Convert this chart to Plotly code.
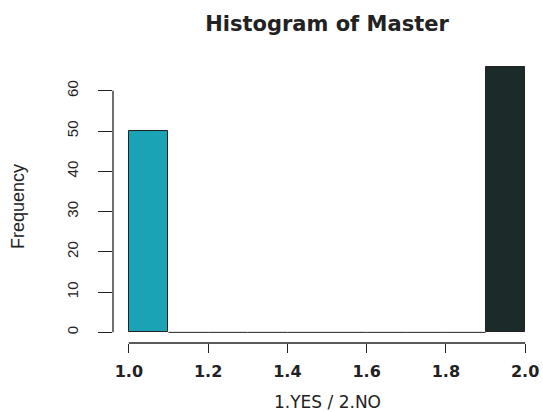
import plotly.graph_objects as go

# ---- data ----
bin_edges = [1.0, 1.1, 1.2, 1.3, 1.4, 1.5, 1.6, 1.7, 1.8, 1.9, 2.0]
counts = [50, 0, 0, 0, 0, 0, 0, 0, 0, 66]
bar_colors = ["#1aa2b5", "#ffffff", "#ffffff", "#ffffff", "#ffffff",
              "#ffffff", "#ffffff", "#ffffff", "#ffffff", "#1c2a29"]
x_ticks = [1.0, 1.2, 1.4, 1.6, 1.8, 2.0]
x_tick_labels = ["1.0", "1.2", "1.4", "1.6", "1.8", "2.0"]
y_ticks = [0, 10, 20, 30, 40, 50, 60]
y_tick_labels = ["0", "10", "20", "30", "40", "50", "60"]
title_text = "Histogram of Master"
x_title = "1.YES / 2.NO"
y_title = "Frequency"

# ---- derived ----
centers = [(a + b) / 2 for a, b in zip(bin_edges[:-1], bin_edges[1:])]
widths = [b - a for a, b in zip(bin_edges[:-1], bin_edges[1:])]
nz = [i for i, c in enumerate(counts) if c > 0]

fig = go.Figure()
fig.add_trace(go.Bar(
    x=[centers[i] for i in nz],
    y=[counts[i] for i in nz],
    width=[widths[i] for i in nz],
    marker=dict(color=[bar_colors[i] for i in nz],
                line=dict(color="#222222", width=1)),
    showlegend=False, hoverinfo="x+y",
))

# zero-height bins drawn as baseline segments (as R does)
zx, zy = [], []
for i, c in enumerate(counts):
    if c == 0:
        zx += [bin_edges[i], bin_edges[i + 1], None]
        zy += [0, 0, None]
fig.add_trace(go.Scatter(x=zx, y=zy, mode="lines",
                         line=dict(color="#222222", width=1),
                         showlegend=False, hoverinfo="skip"))

span_x = bin_edges[-1] - bin_edges[0]
ymax = max(counts)
xr = [bin_edges[0] - 0.04 * span_x, bin_edges[-1] + 0.04 * span_x]
yr = [-0.04 * ymax, ymax * 1.04]

axis_col = "#222222"
fig.update_layout(
    width=543, height=412,
    margin=dict(l=113, r=2, t=56, b=69),
    plot_bgcolor="white", paper_bgcolor="white",
    bargap=0,
    title=dict(text=title_text, x=0.5, xref="paper", xanchor="center",
               y=1 - 24 / 412, yref="container", yanchor="middle",
               font=dict(family="DejaVu Sans", size=21, color="#222222",
                         weight="bold")),
    xaxis=dict(range=xr, showgrid=False, zeroline=False, showline=False,
               tickmode="array", tickvals=x_ticks, ticktext=x_tick_labels,
               ticks="outside", ticklen=9, tickwidth=1.3, tickcolor=axis_col,
               ticklabelstandoff=5,
               tickfont=dict(family="DejaVu Sans", size=16, color="#222222",
                             weight="bold")),
    yaxis=dict(range=yr, showgrid=False, zeroline=False, showline=False,
               tickmode="array", tickvals=y_ticks, ticktext=y_tick_labels,
               ticks="outside", ticklen=14, tickwidth=1.3, tickcolor=axis_col,
               tickangle=-90, ticklabelstandoff=14,
               tickfont=dict(family="Liberation Sans", size=15, color="#222222")),
    shapes=[
        dict(type="line", xref="x", yref="paper",
             x0=x_ticks[0], x1=x_ticks[-1], y0=0, y1=0,
             line=dict(color=axis_col, width=1.3)),
        dict(type="line", xref="paper", yref="y",
             x0=0, x1=0, y0=y_ticks[0], y1=y_ticks[-1],
             line=dict(color=axis_col, width=1.3)),
    ],
    annotations=[
        dict(text=x_title, xref="paper", yref="paper", x=0.5,
             y=(343 - 402) / 287, xanchor="center", yanchor="middle",
             showarrow=False,
             font=dict(family="DejaVu Sans", size=17, color="#222222")),
        dict(text=y_title, xref="paper", yref="paper",
             x=(18 - 113) / 428, y=(343 - 207) / 287,
             xanchor="center", yanchor="middle", textangle=-90,
             showarrow=False,
             font=dict(family="Liberation Sans", size=18, color="#222222")),
    ],
)

fig.write_html("out.html",
               config={"displayModeBar": False},
               post_script="document.body.style.margin='0';"
                           "document.body.style.padding='0';")
